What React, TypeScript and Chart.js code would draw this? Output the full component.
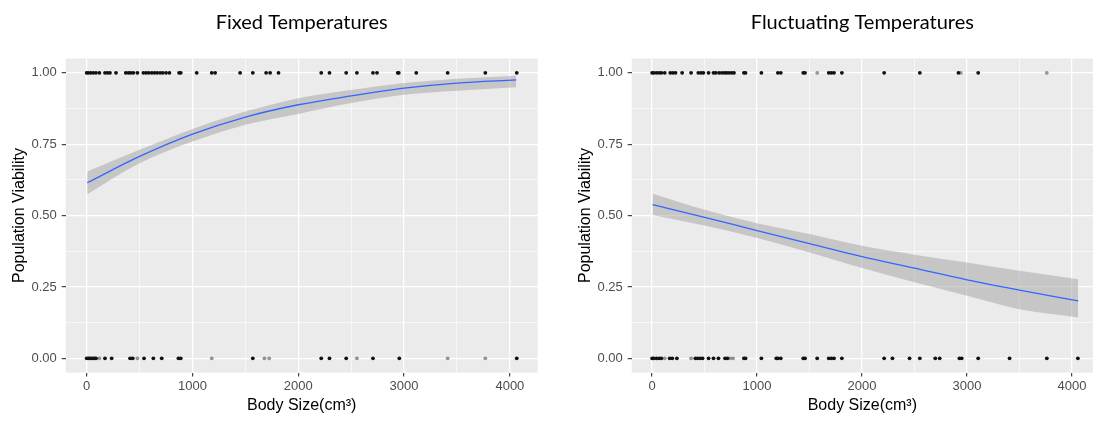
import React, { useEffect, useRef } from "react";
import { Chart, registerables } from "chart.js";

Chart.register(...registerables);

// ---------- data ----------
const xMajorTicks = [0, 1000, 2000, 3000, 4000];
const xMinorTicks = [500, 1500, 2500, 3500];
const yMajorTicks = [0, 0.25, 0.5, 0.75, 1.0];
const yMinorTicks = [0.125, 0.375, 0.625, 0.875];

const xAxisTitle = "Body Size(cm³)";
const yAxisTitle = "Population Viability";

// Fixed temperatures
const fixedTitle = "Fixed Temperatures";
const fixedTopDark = [0, 15, 38, 63, 88, 120, 173, 198, 220, 277, 369, 394, 416, 441, 479, 536, 561, 586, 615, 640, 665, 693, 719, 750, 782, 873, 889, 1040, 1182, 1214, 1450, 1570, 1696, 1734, 1813, 2217, 2295, 2453, 2554, 2706, 2744, 2940, 2950, 3115, 3412, 3768, 4065];
const fixedTopFaint: number[] = [];
const fixedBottomDark = [0, 15, 30, 45, 60, 75, 88, 173, 236, 410, 435, 542, 630, 709, 867, 889, 1570, 2217, 2295, 2453, 2706, 2955, 4065];
const fixedBottomFaint = [120, 479, 1182, 1680, 1725, 2554, 3412, 3768];
const fixedCurveX = [5, 500, 1000, 1500, 2000, 2500, 3000, 3500, 4060];
const fixedFit = [0.615, 0.707, 0.785, 0.845, 0.888, 0.919, 0.946, 0.964, 0.975];
const fixedUpper = [0.654, 0.73, 0.803, 0.864, 0.911, 0.94, 0.964, 0.979, 0.99];
const fixedLower = [0.575, 0.683, 0.759, 0.818, 0.856, 0.894, 0.923, 0.937, 0.949];

// Fluctuating temperatures
const fluctTitle = "Fluctuating Temperatures";
const fluctTopDark = [0, 16, 41, 66, 88, 120, 173, 198, 223, 286, 371, 440, 466, 488, 538, 585, 607, 638, 664, 689, 711, 733, 758, 780, 875, 890, 1041, 1198, 1226, 1440, 1457, 1683, 1708, 1733, 1808, 2211, 2551, 2919, 3107];
const fluctTopFaint = [1573, 2941, 3761];
const fluctBottomDark = [0, 16, 41, 66, 88, 167, 192, 236, 412, 434, 459, 481, 538, 585, 632, 695, 717, 875, 890, 1041, 1183, 1198, 1226, 1440, 1457, 1573, 1683, 1708, 1733, 1808, 2211, 2290, 2453, 2551, 2698, 2740, 2928, 2950, 3107, 3406, 3761, 4057];
const fluctBottomFaint = [120, 371, 740, 771];
const fluctCurveX = [5, 500, 1000, 1500, 2000, 2500, 3000, 3500, 4060];
const fluctFit = [0.538, 0.494, 0.447, 0.402, 0.356, 0.316, 0.275, 0.239, 0.201];
const fluctUpper = [0.576, 0.52, 0.473, 0.435, 0.394, 0.363, 0.336, 0.307, 0.277];
const fluctLower = [0.502, 0.465, 0.421, 0.371, 0.316, 0.266, 0.219, 0.172, 0.143];

// ---------- helpers ----------
const AXIS_FONT = "'Liberation Sans', Arial, sans-serif";
const TITLE_FONT = "Lato, 'Open Sans', sans-serif";

const pts = (xs: number[], y: number) => xs.map((x) => ({ x, y }));
const curve = (xs: number[], ys: number[]) => xs.map((x, i) => ({ x, y: ys[i] }));

const panelBg = {
  id: "panelBg",
  beforeDraw(chart: any) {
    const { ctx, chartArea } = chart;
    ctx.save();
    ctx.fillStyle = "#EBEBEB";
    ctx.fillRect(chartArea.left, chartArea.top, chartArea.right - chartArea.left, chartArea.bottom - chartArea.top);
    ctx.restore();
  },
};

type PanelProps = {
  title: string;
  topDark: number[];
  topFaint: number[];
  bottomDark: number[];
  bottomFaint: number[];
  curveX: number[];
  fit: number[];
  upper: number[];
  lower: number[];
  xMin: number;
  xMax: number;
  padRight: number;
  width: number;
  left: number;
};

function Panel(p: PanelProps) {
  const ref = useRef<HTMLCanvasElement>(null);
  useEffect(() => {
    if (!ref.current) return;
    const isMajorX = (v: number) => xMajorTicks.includes(v);
    const isMajorY = (v: number) => yMajorTicks.some((t) => Math.abs(t - v) < 1e-9);
    const pointStyle = (color: string) => ({
      showLine: false,
      pointRadius: 1.9,
      pointBorderWidth: 0,
      pointBackgroundColor: color,
      pointBorderColor: color,
      borderColor: color,
      backgroundColor: color,
    });
    const chart = new Chart(ref.current, {
      type: "line",
      data: {
        datasets: [
          { data: pts(p.topDark, 1), ...pointStyle("#111111") } as any,
          { data: pts(p.bottomDark, 0), ...pointStyle("#111111") } as any,
          { data: pts(p.topFaint, 1), ...pointStyle("rgba(0,0,0,0.4)") } as any,
          { data: pts(p.bottomFaint, 0), ...pointStyle("rgba(0,0,0,0.4)") } as any,
          {
            data: curve(p.curveX, p.fit),
            borderColor: "#3366FF",
            borderWidth: 1.3,
            pointRadius: 0,
            cubicInterpolationMode: "monotone",
            fill: false,
          } as any,
          {
            data: curve(p.curveX, p.upper),
            borderWidth: 0,
            borderColor: "rgba(0,0,0,0)",
            backgroundColor: "rgba(153,153,153,0.45)",
            pointRadius: 0,
            cubicInterpolationMode: "monotone",
            fill: "+1",
          } as any,
          {
            data: curve(p.curveX, p.lower),
            borderWidth: 0,
            borderColor: "rgba(0,0,0,0)",
            pointRadius: 0,
            cubicInterpolationMode: "monotone",
            fill: false,
          } as any,
        ],
      },
      options: {
        animation: false,
        responsive: false,
        events: [],
        layout: { padding: { top: 4.5, bottom: 5.6, left: 0, right: p.padRight } },
        plugins: {
          legend: { display: false },
          tooltip: { enabled: false },
          title: {
            display: true,
            text: p.title,
            fullSize: false,
            color: "#000",
            font: { family: TITLE_FONT, size: 20, weight: "normal", lineHeight: 1.2 },
            padding: { top: 6, bottom: 24 },
          } as any,
        },
        scales: {
          x: {
            type: "linear",
            min: p.xMin,
            max: p.xMax,
            afterBuildTicks: (s: any) => {
              s.ticks = [...xMajorTicks, ...xMinorTicks].sort((a, b) => a - b).map((v) => ({ value: v }));
            },
            afterFit: (s: any) => {
              s.height = 42.8;
            },
            border: { display: false },
            grid: {
              color: "#FFFFFF",
              lineWidth: (c: any) => (isMajorX(c.tick?.value) ? 1.3 : 0.6),
              tickColor: (c: any) => (isMajorX(c.tick?.value) ? "#333333" : "rgba(0,0,0,0)"),
              tickWidth: 1.1,
              tickLength: 4,
              drawTicks: true,
            } as any,
            ticks: {
              autoSkip: false,
              maxRotation: 0,
              padding: 2,
              color: "#4D4D4D",
              font: { family: AXIS_FONT, size: 13 },
              callback: (v: any) => (isMajorX(Number(v)) ? String(v) : ""),
            },
            title: {
              display: true,
              text: xAxisTitle,
              color: "#000",
              font: { family: AXIS_FONT, size: 16 },
              padding: { top: 0, bottom: 0 },
            },
          },
          y: {
            type: "linear",
            min: -0.05,
            max: 1.05,
            afterBuildTicks: (s: any) => {
              s.ticks = [...yMajorTicks, ...yMinorTicks].sort((a, b) => a - b).map((v) => ({ value: v }));
            },
            afterFit: (s: any) => {
              s.width = 65.7;
            },
            border: { display: false },
            grid: {
              color: "#FFFFFF",
              lineWidth: (c: any) => (isMajorY(c.tick?.value) ? 1.3 : 0.6),
              tickColor: (c: any) => (isMajorY(c.tick?.value) ? "#333333" : "rgba(0,0,0,0)"),
              tickWidth: 1.1,
              tickLength: 4,
              drawTicks: true,
            } as any,
            ticks: {
              autoSkip: false,
              padding: 5,
              color: "#4D4D4D",
              font: { family: AXIS_FONT, size: 13 },
              callback: (v: any) => (isMajorY(Number(v)) ? Number(v).toFixed(2) : ""),
            },
            title: {
              display: true,
              text: yAxisTitle,
              color: "#000",
              font: { family: AXIS_FONT, size: 16 },
              padding: { top: 10, bottom: 0 },
            },
          },
        },
      } as any,
      plugins: [panelBg],
    });
    return () => chart.destroy();
  }, []);
  return (
    <canvas
      ref={ref}
      width={p.width}
      height={421}
      style={{ position: "absolute", left: p.left, top: 0, width: p.width, height: 421 }}
    />
  );
}

export default function App() {
  return (
    <div style={{ position: "absolute", left: 0, top: 0, width: 1097, height: 421, background: "#fff", overflow: "hidden" }}>
      <Panel
        title={fixedTitle}
        topDark={fixedTopDark}
        topFaint={fixedTopFaint}
        bottomDark={fixedBottomDark}
        bottomFaint={fixedBottomFaint}
        curveX={fixedCurveX}
        fit={fixedFit}
        upper={fixedUpper}
        lower={fixedLower}
        xMin={-198.5}
        xMax={4263}
        padRight={22.3}
        width={560}
        left={0}
      />
      <Panel
        title={fluctTitle}
        topDark={fluctTopDark}
        topFaint={fluctTopFaint}
        bottomDark={fluctBottomDark}
        bottomFaint={fluctBottomFaint}
        curveX={fluctCurveX}
        fit={fluctFit}
        upper={fluctUpper}
        lower={fluctLower}
        xMin={-194.6}
        xMax={4201}
        padRight={0}
        width={531}
        left={566}
      />
    </div>
  );
}
